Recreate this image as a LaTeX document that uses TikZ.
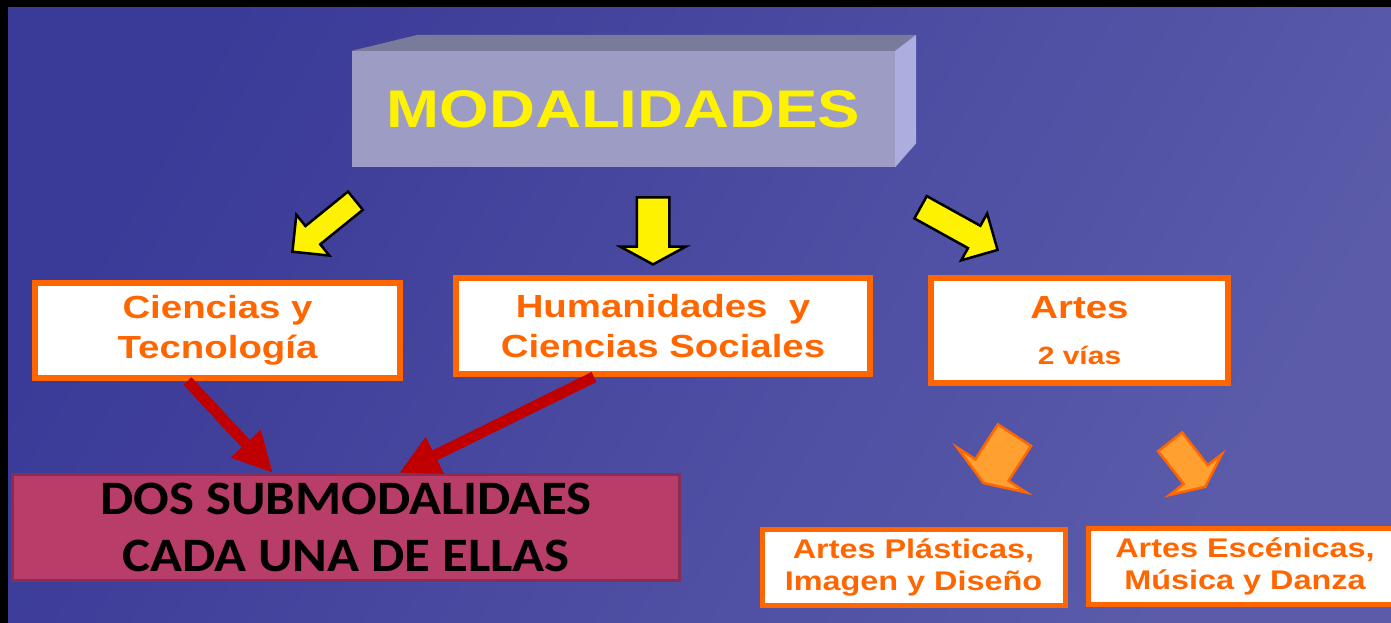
\documentclass[tikz,border=0pt]{standalone}
\usepackage{fontspec}
\newfontfamily\slidefont[FakeStretch=1.2]{Liberation Sans}
\newfontfamily\subfont[FakeStretch=1.1]{Carlito}
\usetikzlibrary{positioning, calc, shapes.arrows, arrows.meta}
\definecolor{bgdark}{HTML}{3A3A98}
\definecolor{bglight}{HTML}{5B5BAA}
\definecolor{boxorange}{HTML}{FF6600}
\definecolor{frontface}{HTML}{9C9CC4}
\definecolor{topface}{HTML}{7A7A9A}
\definecolor{sideface}{HTML}{ADADDF}
\definecolor{arrowred}{HTML}{C00000}
\definecolor{subfill}{HTML}{B83D68}
\definecolor{subdraw}{HTML}{8B2C55}
\definecolor{lightorange}{HTML}{FFA030}
\tikzset{optbox/.style = {draw=boxorange, line width=6pt, fill=white, text=boxorange, align=center, inner sep=0pt,
                          font=\slidefont\bfseries\fontsize{32}{40}\selectfont},
         smallbox/.style = {optbox, line width=5pt, font=\slidefont\bfseries\fontsize{27}{32}\selectfont},
         yarrow/.style = {shape=single arrow, draw=black, line width=2.5pt, fill=yellow, inner xsep=0pt, single arrow tip angle=90},
         oarrow/.style = {shape=single arrow, draw=boxorange, line width=2.5pt, fill=lightorange, inner xsep=0pt},
         redarrow/.style = {draw=arrowred, line width=11pt, -{Triangle[length=40pt,width=38pt]}}}

\begin{document}
\begin{tikzpicture}[x=1pt, y=-1pt]
    \useasboundingbox (0,0) rectangle (1391,623);
    \shade[top color=bgdark, bottom color=bglight, shading angle=60] (0,0) rectangle (1391,623);
    \fill[black] (0,0) rectangle (1391,7);
    \fill[black] (0,0) rectangle (8,623);

    % caja 3D del titulo
    \node [fill=frontface, minimum width=543pt, minimum height=116pt, inner sep=0pt, text=yellow,
           font=\slidefont\bfseries\fontsize{53}{60}\selectfont] (modal) at (623.5,109) {MODALIDADES};
    \fill[topface] (modal.north west) -- ++(66,-16) -- ($(modal.north east)+(21,-16)$) -- (modal.north east) -- cycle;
    \fill[sideface] (modal.north east) -- ++(21,-16) -- ($(modal.south east)+(21,-24)$) -- (modal.south east) -- cycle;

    \node [yarrow, minimum height=81pt, inner ysep=10.5pt, single arrow head extend=14.5pt, rotate=219]  (ya1) at (328.5,222.5) {};
    \node [yarrow, minimum height=67pt, inner ysep=15pt, single arrow head extend=16.5pt, single arrow tip angle=123, rotate=-90] (ya2) at (653,226.5) {};
    \node [yarrow, minimum height=88pt, inner ysep=11.5pt, single arrow head extend=14pt, rotate=-29]    (ya3) at (953.5,225.5) {};

    \node [optbox, minimum width=365pt, minimum height=95pt]  (cyt) at (217.5,330.5) {Ciencias y\\Tecnología};
    \node [optbox, minimum width=414pt, minimum height=96pt]  (hum) at (663,326)     {Humanidades\ \ y\\Ciencias Sociales};
    \node [optbox, minimum width=297pt, minimum height=105pt] (art) at (1079.5,330.5) {Artes\\[6pt]{\fontsize{25}{30}\selectfont 2 vías}};

    \node [oarrow, minimum height=57pt, inner ysep=18.5pt, single arrow head extend=21.5pt, single arrow tip angle=139, rotate=237] (oa1) at (1001,456) {};
    \node [oarrow, minimum height=57pt, inner ysep=14pt, single arrow head extend=18pt, single arrow tip angle=130, rotate=-52]  (oa2) at (1185.5,461.5) {};

    \node [smallbox, minimum width=303pt, minimum height=76pt] (plas) at (913.5,567) {Artes Plásticas,\\Imagen y Diseño};
    \node [smallbox, minimum width=314pt, minimum height=76pt] (esc)  at (1245,566.5) {Artes Escénicas,\\Música y Danza};

    \node [draw=subdraw, line width=3pt, fill=subfill, minimum width=667pt, minimum height=106pt, inner sep=0pt, align=center,
           font=\subfont\bfseries\fontsize{48}{57}\selectfont] (dos) at (346,527.5) {DOS SUBMODALIDAES\\CADA UNA DE ELLAS};

    \draw[redarrow] ([xshift=-30pt]cyt.south) -- ([xshift=-73pt]dos.north);
    \draw[redarrow] ([xshift=-69pt]hum.south) -- ([xshift=53pt]dos.north);
\end{tikzpicture}
\end{document}
